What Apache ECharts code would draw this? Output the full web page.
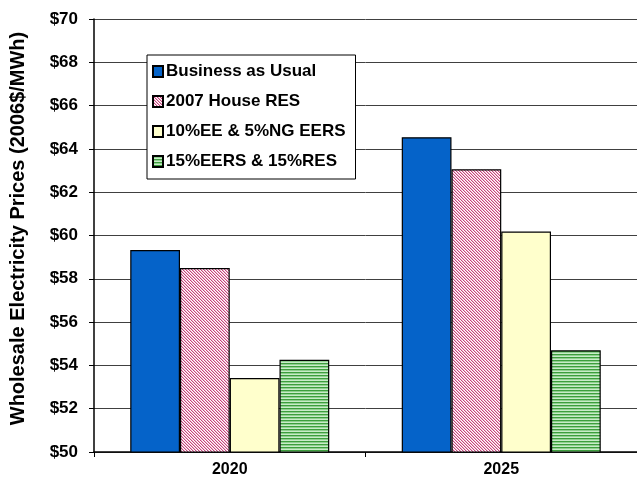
<!DOCTYPE html>
<html>
<head>
<meta charset="utf-8">
<script src="https://cdn.jsdelivr.net/npm/echarts@6/dist/echarts.min.js"></script>
<style>
  html, body { margin: 0; padding: 0; background: #fff; }
  #chart { width: 637px; height: 489px; }
</style>
</head>
<body>
<div id="chart"></div>
<script>
// Wholesale electricity prices by policy scenario
const years = ['2020', '2025'];
const seriesNames = [
  'Business as Usual',
  '2007 House RES',
  '10%EE & 5%NG EERS',
  '15%EERS & 15%RES'
];
const businessAsUsual = [59.33, 64.54];
const houseRes2007 = [58.50, 63.06];
const ee10ng5 = [53.42, 60.18];
const eers15res15 = [54.26, 54.70];
const yTicks = { min: 50, max: 70, step: 2 };

const labelFont = '"Liberation Sans", Arial, sans-serif';

// Fine diagonal checker hatch in pink on white
function pinkHatch() {
  const c = document.createElement('canvas');
  c.width = 3; c.height = 3;
  const g = c.getContext('2d');
  g.fillStyle = '#ffffff';
  g.fillRect(0, 0, 3, 3);
  for (let y = 0; y < 3; y++) {
    for (let x = 0; x < 3; x++) {
      const k = ((x - y) % 3 + 3) % 3;
      if (k === 0) { g.fillStyle = '#c6447c'; g.fillRect(x, y, 1, 1); }
      else if (k === 1) { g.fillStyle = '#eeb8cf'; g.fillRect(x, y, 1, 1); }
    }
  }
  return c;
}

// Horizontal green stripes
function greenStripes() {
  const c = document.createElement('canvas');
  c.width = 4; c.height = 3;
  const g = c.getContext('2d');
  g.fillStyle = '#3d9e3d'; g.fillRect(0, 0, 4, 1);
  g.fillStyle = '#8fd08f'; g.fillRect(0, 1, 4, 1);
  g.fillStyle = '#c9ebc9'; g.fillRect(0, 2, 4, 1);
  return c;
}

const fills = [
  '#0563c9',
  { image: pinkHatch(), repeat: 'repeat' },
  '#ffffcc',
  { image: greenStripes(), repeat: 'repeat' }
];
const values = [businessAsUsual, houseRes2007, ee10ng5, eers15res15];

const chart = echarts.init(document.getElementById('chart'), null, { renderer: 'canvas' });

chart.setOption({
  animation: false,
  backgroundColor: '#ffffff',
  grid: { left: 94, right: -3, top: 19, bottom: 37, containLabel: false },
  legend: {
    orient: 'vertical',
    left: 147,
    top: 55,
    width: 207,
    padding: [8, 10, 9, 5],
    itemGap: 13,
    itemWidth: 10,
    itemHeight: 11,
    icon: 'rect',
    backgroundColor: '#ffffff',
    borderColor: '#000000',
    borderWidth: 1,
    textStyle: { fontFamily: labelFont, fontWeight: 'bold', fontSize: 17, color: '#000', padding: [0, 0, 0, -2] },
    data: seriesNames
  },
  xAxis: {
    type: 'category',
    data: years,
    axisLine: { lineStyle: { color: '#000', width: 1.5 } },
    axisTick: { show: true, length: 5, lineStyle: { color: '#000' } },
    axisLabel: { fontFamily: labelFont, fontWeight: 'bold', fontSize: 16, color: '#000', margin: 10 },
    splitLine: { show: false }
  },
  yAxis: {
    type: 'value',
    min: yTicks.min,
    max: yTicks.max,
    interval: yTicks.step,
    name: 'Wholesale Electricity Prices (2006$/MWh)',
    nameLocation: 'middle',
    nameGap: 66,
    nameTextStyle: { fontFamily: labelFont, fontWeight: 'bold', fontSize: 20, color: '#000', padding: [0, 0, 0, 14] },
    axisLine: { show: true, lineStyle: { color: '#000', width: 1.5 } },
    axisTick: { show: true, length: 5, inside: false, lineStyle: { color: '#000' } },
    axisLabel: {
      fontFamily: labelFont, fontWeight: 'bold', fontSize: 17, color: '#000', margin: 16,
      formatter: v => '$' + v
    },
    splitLine: { show: true, lineStyle: { color: '#404040', width: 1 } }
  },
  series: values.map((vals, i) => ({
    name: seriesNames[i],
    type: 'bar',
    data: vals,
    barGap: '0%',
    barCategoryGap: '26.7%',
    itemStyle: { color: fills[i], borderColor: '#000', borderWidth: 1.2 }
  }))
});
</script>
</body>
</html>
